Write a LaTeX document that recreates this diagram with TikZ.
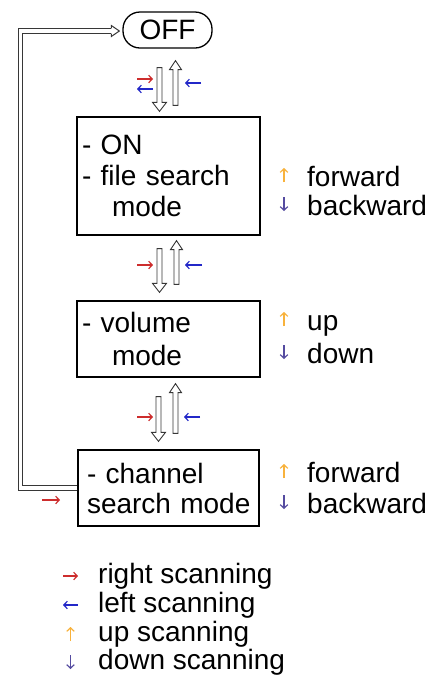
\documentclass[tikz,border=0pt]{standalone}
\usepackage{fontspec}
\setmainfont{Liberation Sans}
\usetikzlibrary{arrows.meta,calc}
\definecolor{cred}{RGB}{205,45,45}
\definecolor{cblue}{RGB}{35,40,200}
\definecolor{corange}{RGB}{248,178,60}
\definecolor{cpurple}{RGB}{85,75,160}
\definecolor{cgray}{RGB}{55,55,55}
\newcommand\hdown[2]{\draw[hollow] let \p1=(#1), \p2=(#2) in
  (\x1-2.5pt,\y1) -- (\x1-2.5pt,\y2+9pt) -- (\x1-7pt,\y2+9pt) -- (\x1,\y2)
  -- (\x1+7pt,\y2+9pt) -- (\x1+2.5pt,\y2+9pt) -- (\x1+2.5pt,\y1) -- cycle;}
\newcommand\hup[2]{\draw[hollow] let \p1=(#1), \p2=(#2) in
  (\x1-2.5pt,\y1) -- (\x1-2.5pt,\y2-9pt) -- (\x1-6pt,\y2-9pt) -- (\x1,\y2)
  -- (\x1+6pt,\y2-9pt) -- (\x1+2.5pt,\y2-9pt) -- (\x1+2.5pt,\y1) -- cycle;}
\begin{document}
\begin{tikzpicture}[x=1pt,y=-1pt,
  txt/.style={font=\fontsize{28}{31}\selectfont, inner sep=0pt},
  box/.style={draw=black, line width=1.3pt, font=\fontsize{28}{31}\selectfont,
    align=left, inner ysep=0pt},
  offbox/.style={draw=black, line width=1.3pt, rounded corners=17pt,
    minimum width=89pt, minimum height=36pt, inner sep=0pt,
    font=\fontsize{28}{31}\selectfont},
  hollow/.style={draw=cgray, line width=0.9pt, fill=white},
  sym/.style={line width=1.2pt, -{Straight Barb[length=3.5pt,width=7.5pt]}},
  dbl/.style={draw=cgray, line width=1pt, double=white, double distance=3.2pt},
]
\useasboundingbox[fill=white] (0,0) rectangle (429,689);

% nodes
\node[offbox] (off) at (167.5,30) {OFF};
\node[box, minimum height=118pt, text width=173pt, inner xsep=5pt] (b1) at (168.5,176)
  {- ON\\- file search\\\hspace*{30pt}mode};
\node[box, minimum height=76pt, text width=173pt, inner xsep=5pt] (b2) at (168.5,339)
  {- volume\\[2pt]\hspace*{30pt}mode};
\node[box, minimum height=76pt, text width=171pt, inner xsep=5pt] (b3) at (168.5,488)
  {\hspace*{4pt}- channel\\[-1pt]\hspace*{4pt}search mode};

% hollow arrows between states
\coordinate (d1s) at ($(off.south)+(-8,19)$);
\coordinate (d1e) at ($(b1.north)+(-9,-5)$);
\coordinate (u1s) at ($(b1.north)+(7,-11)$);
\coordinate (u1e) at ($(off.south)+(8,12)$);
\hdown{d1s}{d1e}
\hup{u1s}{u1e}

\coordinate (d2s) at ($(b1.south)+(-9,13)$);
\coordinate (d2e) at ($(b2.north)+(-9,-8)$);
\coordinate (u2s) at ($(b2.north)+(8,-16)$);
\coordinate (u2e) at ($(b1.south)+(8,5)$);
\hdown{d2s}{d2e}
\hup{u2s}{u2e}

\coordinate (d3s) at ($(b2.south)+(-10,19)$);
\coordinate (d3e) at ($(b3.north)+(-10,-8)$);
\coordinate (u3s) at ($(b3.north)+(7,-16)$);
\coordinate (u3e) at ($(b2.south)+(7,6)$);
\hdown{d3s}{d3e}
\hup{u3s}{u3e}

% scanning marks beside the hollow arrows
\draw[sym, cred]  (137,79) -- (153,79);
\draw[sym, cblue] (153,89) -- (137,89);
\draw[sym, cblue] (201,83) -- (185,83);
\draw[sym, cred]  (137,265) -- (153,265);
\draw[sym, cblue] (202,265) -- (185,265);
\draw[sym, cred]  (137,417) -- (153,417);
\draw[sym, cblue] (200,417) -- (184,417);

% loop back to OFF
\coordinate (lcorner) at (20.5,31);
\coordinate (ltip) at ($(off.west)+(-3,1)$);
\draw[dbl] (b3.west) -| (lcorner) -- ($(ltip)+(-8,0)$);
\draw[draw=cgray, line width=1pt, line join=miter] let \p1=(ltip) in
  (\x1-8pt,\y1+2.6pt) -- (\x1-8pt,\y1+5.5pt) -- (\x1,\y1) -- (\x1-8pt,\y1-5.5pt) -- (\x1-8pt,\y1-2.6pt);
\draw[sym, cred] (42,500) -- (60,500);

% side labels
\draw[sym, corange] (284,182) -- (284,168);
\node[txt, anchor=base west] (f1) at (307,186) {forward};
\draw[sym, cpurple] (284,197) -- (284,211);
\node[txt, anchor=base west] (bk1) at (307,215) {backward};

\draw[sym, corange] (284,326) -- (284,312);
\node[txt, anchor=base west] (up2) at (307,330) {up};
\draw[sym, cpurple] (284,345) -- (284,359);
\node[txt, anchor=base west] (dn2) at (307,363) {down};

\draw[sym, corange] (284,478) -- (284,464);
\node[txt, anchor=base west] (f3) at (307,482) {forward};
\draw[sym, cpurple] (284,495) -- (284,509);
\node[txt, anchor=base west] (bk3) at (307,513) {backward};

% legend
\draw[sym, cred]  (63,576) -- (78,576);
\node[txt, anchor=base west] (l1) at (98,583) {right scanning};
\draw[sym, cblue] (78,605) -- (63,605);
\node[txt, anchor=base west] (l2) at (98,612) {left scanning};
\draw[sym, corange] (70.5,641) -- (70.5,627);
\node[txt, anchor=base west] (l3) at (98,641) {up scanning};
\draw[sym, cpurple] (70.5,655) -- (70.5,669);
\node[txt, anchor=base west] (l4) at (98,669) {down scanning};
\end{tikzpicture}
\end{document}
